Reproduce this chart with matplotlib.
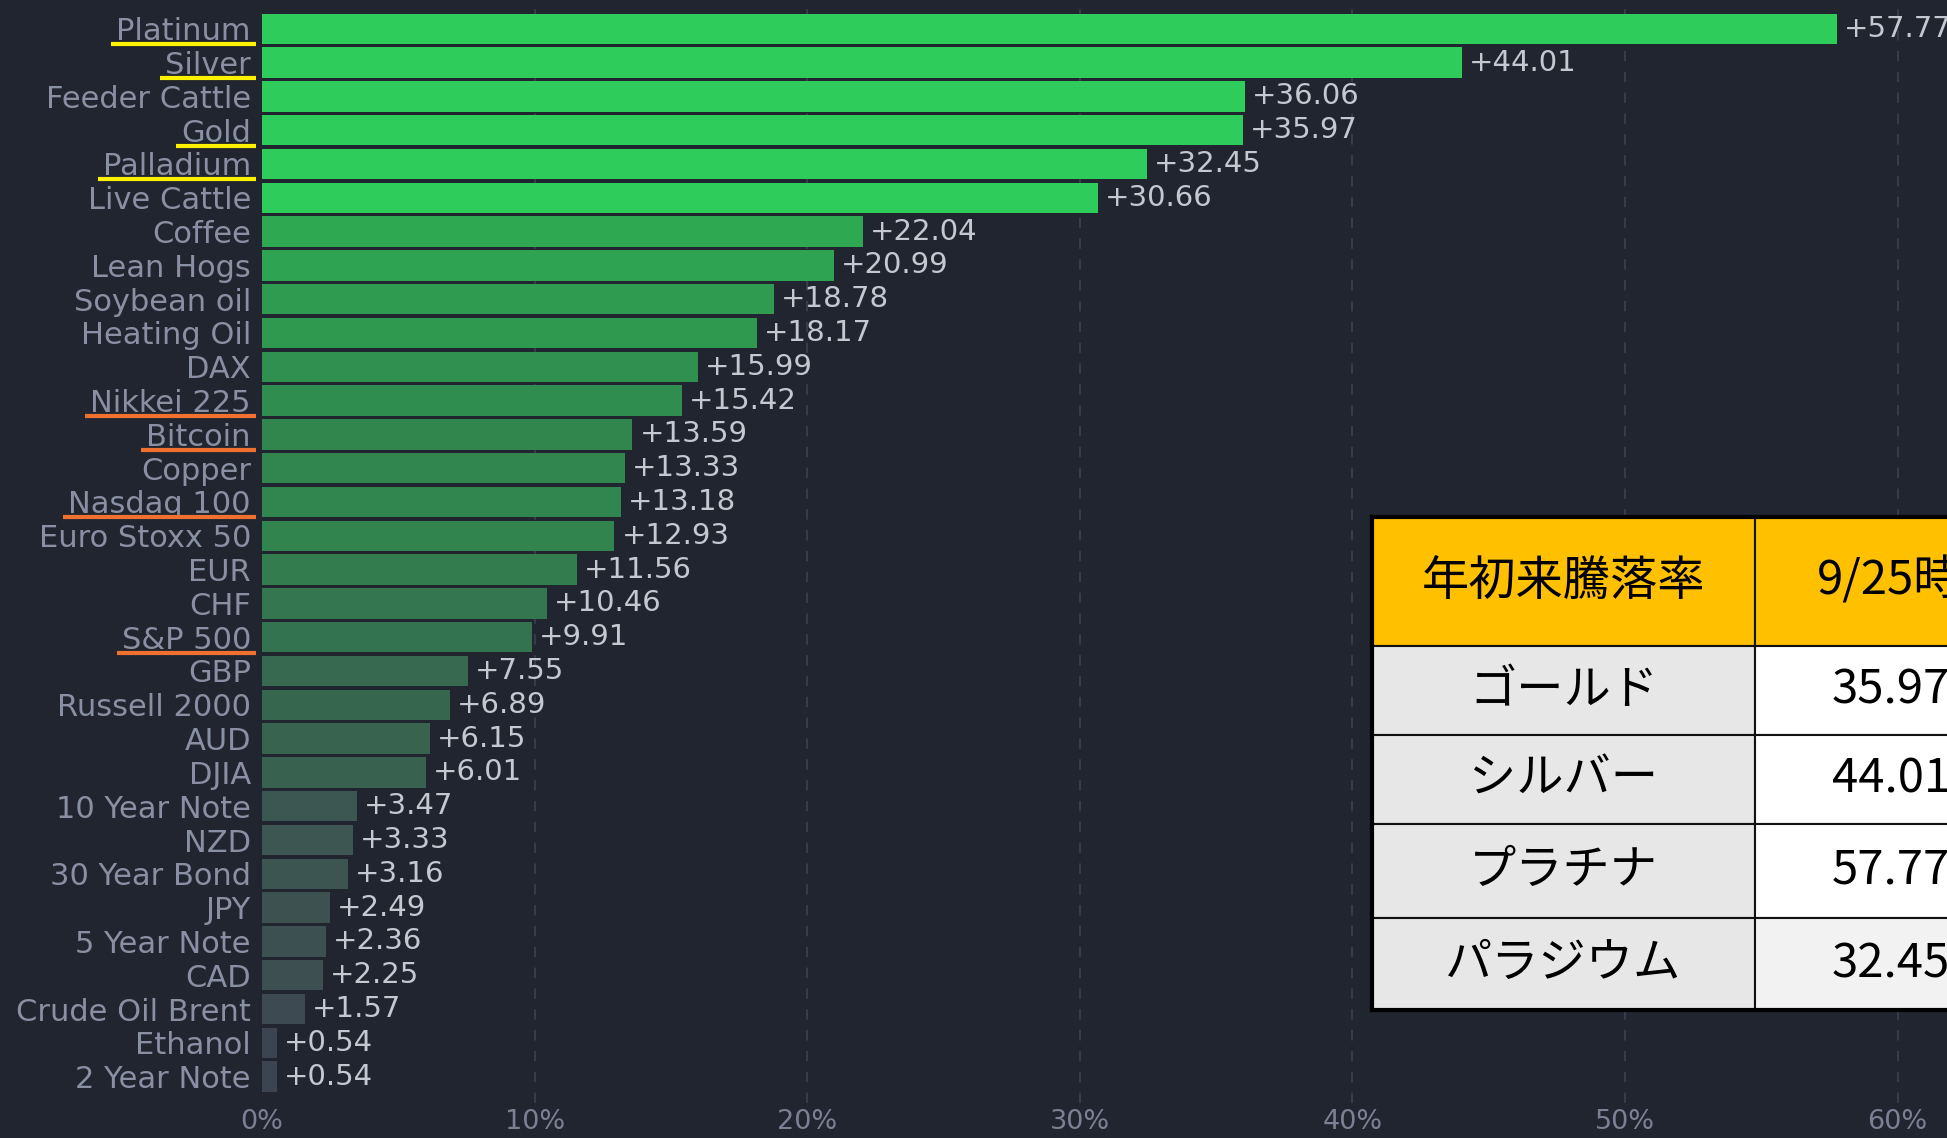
import matplotlib
matplotlib.use('Agg')
import matplotlib.pyplot as plt
from matplotlib.colors import LinearSegmentedColormap, Normalize
from matplotlib.lines import Line2D
from matplotlib.transforms import IdentityTransform

# year-to-date change (%)
names = ['Platinum', 'Silver', 'Feeder Cattle', 'Gold', 'Palladium', 'Live Cattle',
         'Coffee', 'Lean Hogs', 'Soybean oil', 'Heating Oil', 'DAX', 'Nikkei 225',
         'Bitcoin', 'Copper', 'Nasdaq 100', 'Euro Stoxx 50', 'EUR', 'CHF', 'S&P 500',
         'GBP', 'Russell 2000', 'AUD', 'DJIA', '10 Year Note', 'NZD', '30 Year Bond',
         'JPY', '5 Year Note', 'CAD', 'Crude Oil Brent', 'Ethanol', '2 Year Note']
changes = [57.77, 44.01, 36.06, 35.97, 32.45, 30.66,
           22.04, 20.99, 18.78, 18.17, 15.99, 15.42,
           13.59, 13.33, 13.18, 12.93, 11.56, 10.46, 9.91,
           7.55, 6.89, 6.15, 6.01, 3.47, 3.33, 3.16,
           2.49, 2.36, 2.25, 1.57, 0.54, 0.54]
metals = ['Platinum', 'Silver', 'Gold', 'Palladium']
indices = ['Nikkei 225', 'Bitcoin', 'Nasdaq 100', 'S&P 500']
x_ticks = [0, 10, 20, 30, 40, 50, 60]

table_header = ['年初来騰落率', '9/25時点']
table_names = ['ゴールド', 'シルバー', 'プラチナ', 'パラジウム']
table_values = ['35.97%', '44.01%', '57.77%', '32.45%']

bg = '#21252f'
W, H = 1947, 1138
fig = plt.figure(figsize=(W / 100, H / 100), dpi=100, facecolor=bg)
ax = fig.add_axes([262 / W, 35 / H, (W - 262) / W, 1103 / H])
ax.set_facecolor(bg)

# colour scale like the heatmap: dull grey-green for small moves, bright green above ~30%
cmap = LinearSegmentedColormap.from_list('ytd', [
    (0.0, '#3c4150'), (1.57 / 30, '#3e4a52'), (3 / 30, '#3d5551'),
    (6 / 30, '#38624f'), (10 / 30, '#34734f'), (13 / 30, '#31844e'),
    (16 / 30, '#2f904f'), (22 / 30, '#2ea852'), (1.0, '#2ecc5a')])
norm = Normalize(0, 30, clip=True)

ypos = list(range(len(names)))
ax.barh(ypos, changes, height=0.9, color=[cmap(norm(v)) for v in changes], zorder=2)

for y, v in zip(ypos, changes):
    ax.annotate(f'+{v:.2f}', (v, y), xytext=(5, 0), textcoords='offset points',
                va='center', ha='left', fontsize=21, color='#c4c8d1', zorder=3)

ax.set_xticks(x_ticks)
ax.set_xticklabels([f'{t}%' for t in x_ticks], fontsize=19.5, color='#7a8194')
ax.set_xlim(0, 10 * (W - 262) / 272.6)
ax.set_ylim(len(names) - 0.22, -0.85)
ax.set_yticks(ypos)
ax.set_yticklabels(names, fontsize=22, color='#8a90a3')
ax.tick_params(axis='y', length=0, pad=8)
ax.tick_params(axis='x', length=0, pad=4)
for s in ax.spines.values():
    s.set_visible(False)
ax.grid(axis='x', color='#373c4a', linestyle=(0, (5, 5)), linewidth=1.5, zorder=1)
ax.set_axisbelow(True)
ax.xaxis.get_gridlines()[0].set_visible(False)

# underline the highlighted labels
fig.canvas.draw()
renderer = fig.canvas.get_renderer()
for lbl in ax.get_yticklabels():
    txt = lbl.get_text()
    if txt in metals or txt in indices:
        col = '#fff200' if txt in metals else '#f07030'
        bb = lbl.get_window_extent(renderer)
        y = bb.y0 + 2
        fig.add_artist(Line2D([bb.x0 - 5, 256], [y, y], transform=IdentityTransform(),
                              color=col, linewidth=3, solid_capstyle='butt'))

# table overlay (runs off the right edge like the screenshot)
tab_ax = fig.add_axes([1372 / W, (H - 1010) / H, 699 / W, (1010 - 517) / H])
tab_ax.set_xticks([])
tab_ax.set_yticks([])
for s in tab_ax.spines.values():
    s.set_color('black')
    s.set_linewidth(3)
cell_text = [table_header] + [[n, v] for n, v in zip(table_names, table_values)]
colours = [['#ffc000', '#ffc000'], ['#e7e7e7', '#ffffff'], ['#e7e7e7', '#ffffff'],
           ['#e7e7e7', '#ffffff'], ['#e7e7e7', '#f2f2f2']]
tbl = tab_ax.table(cellText=cell_text, cellColours=colours, cellLoc='center',
                   bbox=[0, 0, 1, 1], colWidths=[383 / 699, 316 / 699])
tbl.auto_set_font_size(False)
row_h = [129, 89, 89, 94, 92]
for (r, c), cell in tbl.get_celld().items():
    cell.set_height(row_h[r])
    cell.set_edgecolor('#111111')
    cell.set_linewidth(1.5)
    cell.get_text().set_fontsize(34)
    cell.get_text().set_fontfamily(['Noto Sans CJK JP', 'DejaVu Sans'])

fig.savefig('out.png', dpi=100, facecolor=bg)
